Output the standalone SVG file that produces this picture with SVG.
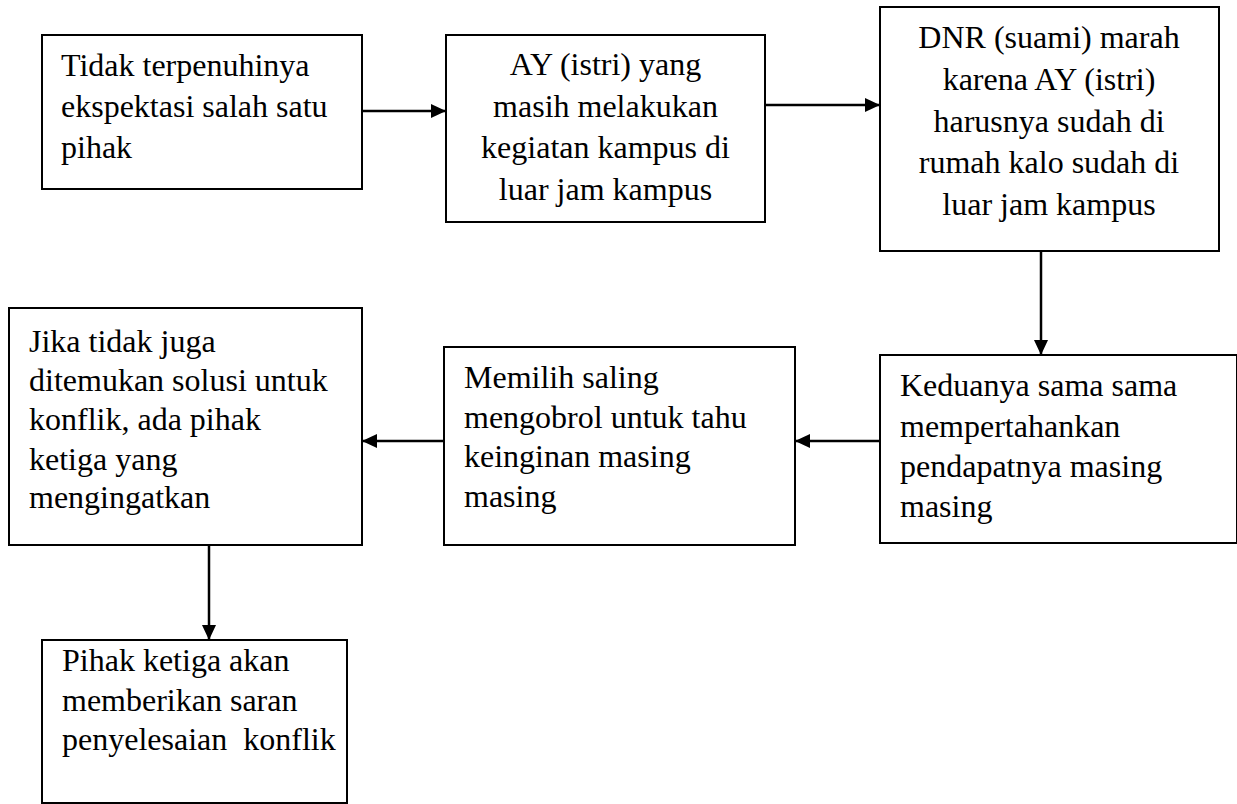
<svg xmlns="http://www.w3.org/2000/svg" width="1237" height="804" viewBox="0 0 1237 804">
  <defs>
    <style>
      .box { fill: #ffffff; stroke: #000000; stroke-width: 2; }
      .lbl { font-size: 32px; fill: #000000; white-space: pre; }
      .mid { text-anchor: middle; }
      .edge { stroke: #000000; stroke-width: 2.5; fill: none; marker-end: url(#head); }
    </style>
    <marker id="head" markerUnits="userSpaceOnUse" markerWidth="16" markerHeight="14" refX="15" refY="7" orient="auto">
      <path d="M0,0 L15,7 L0,14 Z" fill="#000000"/>
    </marker>
  </defs>

  <rect width="1237" height="804" fill="#ffffff"/>

  <!-- connectors -->
  <g id="connectors">
    <line class="edge" x1="362" y1="111" x2="446" y2="111"/>
    <line class="edge" x1="765" y1="105" x2="880" y2="105"/>
    <line class="edge" x1="1041" y1="251" x2="1041" y2="355"/>
    <line class="edge" x1="880" y1="441" x2="795" y2="441"/>
    <line class="edge" x1="444" y1="441" x2="362" y2="441"/>
    <line class="edge" x1="209" y1="545" x2="209" y2="640"/>
  </g>

  <!-- all node labels share one serif face -->
  <g font-family="'Liberation Serif', 'DejaVu Serif', serif">
    <!-- step 1 -->
    <g id="n1">
      <rect class="box" x="42" y="35" width="320" height="154"/>
      <text class="lbl" x="61" y="76">Tidak terpenuhinya</text>
      <text class="lbl" x="61" y="117">ekspektasi salah satu</text>
      <text class="lbl" x="61" y="158">pihak</text>
    </g>

    <!-- step 2 -->
    <g id="n2">
      <rect class="box" x="446" y="35" width="319" height="187"/>
      <text class="lbl mid" x="605.5" y="75">AY (istri) yang</text>
      <text class="lbl mid" x="605.5" y="117">masih melakukan</text>
      <text class="lbl mid" x="605.5" y="158">kegiatan kampus di</text>
      <text class="lbl mid" x="605.5" y="200">luar jam kampus</text>
    </g>

    <!-- step 3 -->
    <g id="n3">
      <rect class="box" x="880" y="7" width="339" height="244"/>
      <text class="lbl mid" x="1049" y="48">DNR (suami) marah</text>
      <text class="lbl mid" x="1049" y="90">karena AY (istri)</text>
      <text class="lbl mid" x="1049" y="131.5">harusnya sudah di</text>
      <text class="lbl mid" x="1049" y="173">rumah kalo sudah di</text>
      <text class="lbl mid" x="1049" y="215">luar jam kampus</text>
    </g>

    <!-- step 4 -->
    <g id="n4">
      <rect class="box" x="880" y="355" width="357" height="188"/>
      <text class="lbl" x="900" y="396">Keduanya sama sama</text>
      <text class="lbl" x="900" y="436.5">mempertahankan</text>
      <text class="lbl" x="900" y="476.5">pendapatnya masing</text>
      <text class="lbl" x="900" y="516.5">masing</text>
    </g>

    <!-- step 5 -->
    <g id="n5">
      <rect class="box" x="444" y="347" width="351" height="198"/>
      <text class="lbl" x="464" y="388">Memilih saling</text>
      <text class="lbl" x="464" y="428">mengobrol untuk tahu</text>
      <text class="lbl" x="464" y="467">keinginan masing</text>
      <text class="lbl" x="464" y="507">masing</text>
    </g>

    <!-- step 6 -->
    <g id="n6">
      <rect class="box" x="9" y="308" width="353" height="237"/>
      <text class="lbl" x="29" y="352">Jika tidak juga</text>
      <text class="lbl" x="29" y="391">ditemukan solusi untuk</text>
      <text class="lbl" x="29" y="430">konflik, ada pihak</text>
      <text class="lbl" x="29" y="470">ketiga yang</text>
      <text class="lbl" x="29" y="508">mengingatkan</text>
    </g>

    <!-- step 7 -->
    <g id="n7">
      <rect class="box" x="42" y="640" width="305" height="163"/>
      <text class="lbl" x="62" y="671">Pihak ketiga akan</text>
      <text class="lbl" x="62" y="711">memberikan saran</text>
      <text class="lbl" x="62" y="750">penyelesaian  konflik</text>
    </g>
  </g>
</svg>
